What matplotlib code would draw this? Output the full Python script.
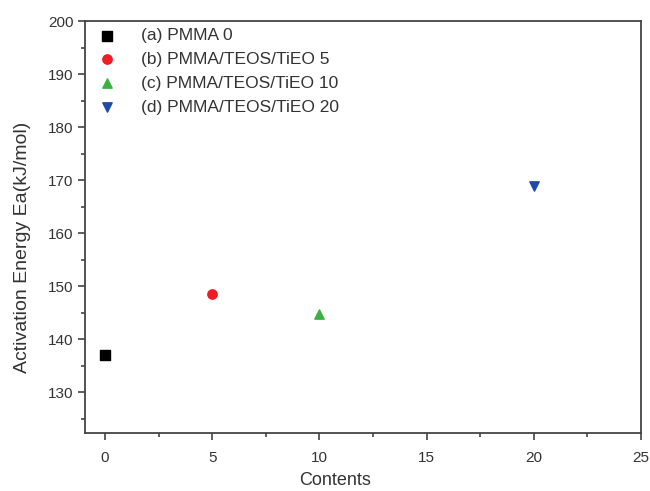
import matplotlib.pyplot as plt

plt.rcParams['font.family'] = ['Liberation Sans', 'DejaVu Sans']

# Activation energy vs contents
contents = [0, 5, 10, 20]
energy = [137.0, 148.5, 144.7, 168.9]
labels = ['(a) PMMA 0', '(b) PMMA/TEOS/TiEO 5',
          '(c) PMMA/TEOS/TiEO 10', '(d) PMMA/TEOS/TiEO 20']
markers = ['s', 'o', '^', 'v']
colors = ['#000000', '#ee1c25', '#3cb043', '#1f4aa8']

fig = plt.figure(figsize=(6.5, 4.91), dpi=100)
ax = fig.add_axes([0.131, 0.118, 0.855, 0.839])

for x, y, lab, m, c in zip(contents, energy, labels, markers, colors):
    ax.scatter([x], [y], marker=m, color=c, s=45, label=lab, zorder=3)

ax.set_xlim(-0.93, 25)
ax.set_ylim(122.3, 200)
ax.set_xticks([0, 5, 10, 15, 20, 25])
ax.set_yticks([130, 140, 150, 160, 170, 180, 190, 200])
ax.set_xticks([2.5, 7.5, 12.5, 17.5, 22.5], minor=True)
ax.set_yticks([125, 135, 145, 155, 165, 175, 185, 195], minor=True)

for s in ax.spines.values():
    s.set_color('#444444')
    s.set_linewidth(1.3)
ax.tick_params(which='major', direction='out', length=5, width=1.2,
               colors='#444444', labelsize=11, labelcolor='#333333')
ax.tick_params(which='minor', direction='out', length=3, width=1.2, colors='#444444')
ax.tick_params(axis='x', pad=8)

ax.set_xlabel('Contents', fontsize=13, color='#333333', labelpad=5)
ax.xaxis.set_label_coords(0.45, -0.095)
ax.set_ylabel('Activation Energy Ea(kJ/mol)', fontsize=14, color='#333333')
ax.yaxis.set_label_coords(-0.097, 0.45)

ax.legend(loc='upper left', frameon=False, fontsize=12.5, handletextpad=1.0,
          labelspacing=0.5, borderaxespad=0.0, scatterpoints=1,
          labelcolor='#333333', bbox_to_anchor=(-0.005, 1.0))

plt.savefig('out.png', dpi=100)
